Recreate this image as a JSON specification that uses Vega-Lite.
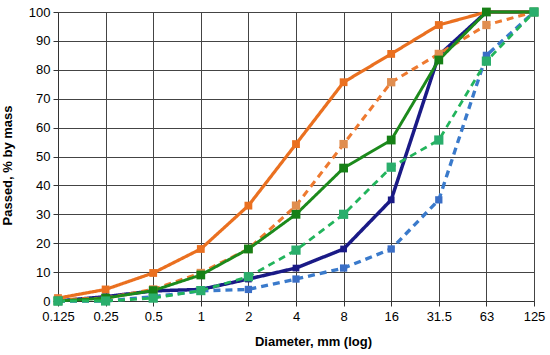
{
  "$schema": "https://vega.github.io/schema/vega-lite/v6.json",
  "autosize": "none",
  "width": 476,
  "height": 289,
  "padding": {"left": 58, "top": 12, "right": 16, "bottom": 54},
  "background": "white",
  "config": {
    "font": "Liberation Sans",
    "view": {"stroke": null},
    "axis": {
      "labelFont": "Liberation Sans",
      "labelFontSize": 13,
      "labelColor": "#000",
      "titleFont": "Liberation Sans",
      "titleFontSize": 13,
      "titleFontWeight": "bold",
      "titleColor": "#000",
      "gridColor": "#444444",
      "gridOpacity": 1,
      "gridWidth": 1,
      "domainColor": "#333",
      "tickColor": "#333",
      "tickSize": 5
    }
  },
  "data": {
    "values": [
      {"s": "a_navy", "d": "0.125", "v": 0},
      {"s": "a_navy", "d": "0.25", "v": 1.5},
      {"s": "a_navy", "d": "0.5", "v": 3.5},
      {"s": "a_navy", "d": "1", "v": 4},
      {"s": "a_navy", "d": "2", "v": 7.6},
      {"s": "a_navy", "d": "4", "v": 11.4},
      {"s": "a_navy", "d": "8", "v": 18},
      {"s": "a_navy", "d": "16", "v": 35},
      {"s": "a_navy", "d": "31.5", "v": 85},
      {"s": "a_navy", "d": "63", "v": 100},
      {"s": "a_navy", "d": "125", "v": 100},
      {"s": "b_blue", "d": "0.125", "v": 0},
      {"s": "b_blue", "d": "0.25", "v": 0},
      {"s": "b_blue", "d": "0.5", "v": 1.5},
      {"s": "b_blue", "d": "1", "v": 3.5},
      {"s": "b_blue", "d": "2", "v": 4},
      {"s": "b_blue", "d": "4", "v": 7.6},
      {"s": "b_blue", "d": "8", "v": 11.4},
      {"s": "b_blue", "d": "16", "v": 18},
      {"s": "b_blue", "d": "31.5", "v": 35},
      {"s": "b_blue", "d": "63", "v": 85},
      {"s": "b_blue", "d": "125", "v": 100},
      {"s": "c_orange", "d": "0.125", "v": 1},
      {"s": "c_orange", "d": "0.25", "v": 4},
      {"s": "c_orange", "d": "0.5", "v": 9.7},
      {"s": "c_orange", "d": "1", "v": 18},
      {"s": "c_orange", "d": "2", "v": 33},
      {"s": "c_orange", "d": "4", "v": 54.3},
      {"s": "c_orange", "d": "8", "v": 75.7},
      {"s": "c_orange", "d": "16", "v": 85.5},
      {"s": "c_orange", "d": "31.5", "v": 95.5},
      {"s": "c_orange", "d": "63", "v": 100},
      {"s": "c_orange", "d": "125", "v": 100},
      {"s": "d_orange2", "d": "0.125", "v": 0.5},
      {"s": "d_orange2", "d": "0.25", "v": 1},
      {"s": "d_orange2", "d": "0.5", "v": 4},
      {"s": "d_orange2", "d": "1", "v": 9.7},
      {"s": "d_orange2", "d": "2", "v": 18},
      {"s": "d_orange2", "d": "4", "v": 33},
      {"s": "d_orange2", "d": "8", "v": 54.3},
      {"s": "d_orange2", "d": "16", "v": 75.7},
      {"s": "d_orange2", "d": "31.5", "v": 85.5},
      {"s": "d_orange2", "d": "63", "v": 95.5},
      {"s": "d_orange2", "d": "125", "v": 100},
      {"s": "e_green", "d": "0.125", "v": 0},
      {"s": "e_green", "d": "0.25", "v": 1},
      {"s": "e_green", "d": "0.5", "v": 3.6},
      {"s": "e_green", "d": "1", "v": 9},
      {"s": "e_green", "d": "2", "v": 18},
      {"s": "e_green", "d": "4", "v": 30},
      {"s": "e_green", "d": "8", "v": 46},
      {"s": "e_green", "d": "16", "v": 55.7},
      {"s": "e_green", "d": "31.5", "v": 83.4},
      {"s": "e_green", "d": "63", "v": 100},
      {"s": "e_green", "d": "125", "v": 100},
      {"s": "f_green2", "d": "0.125", "v": 0},
      {"s": "f_green2", "d": "0.25", "v": 0},
      {"s": "f_green2", "d": "0.5", "v": 1},
      {"s": "f_green2", "d": "1", "v": 3.6},
      {"s": "f_green2", "d": "2", "v": 8.4},
      {"s": "f_green2", "d": "4", "v": 17.6},
      {"s": "f_green2", "d": "8", "v": 30},
      {"s": "f_green2", "d": "16", "v": 46.3},
      {"s": "f_green2", "d": "31.5", "v": 55.7},
      {"s": "f_green2", "d": "63", "v": 83},
      {"s": "f_green2", "d": "125", "v": 100}
    ]
  },
  "encoding": {
    "x": {
      "field": "d",
      "type": "ordinal",
      "sort": ["0.125", "0.25", "0.5", "1", "2", "4", "8", "16", "31.5", "63", "125"],
      "scale": {"type": "point", "padding": 0},
      "axis": {"title": "Diameter, mm (log)", "labelAngle": 0, "grid": true, "labelPadding": 4, "titleX": 255, "titlePadding": 12}
    },
    "y": {
      "field": "v",
      "type": "quantitative",
      "scale": {"domain": [0, 100], "nice": false},
      "axis": {"title": "Passed, % by mass", "values": [0, 10, 20, 30, 40, 50, 60, 70, 80, 90, 100], "grid": true, "labelPadding": 3, "titlePadding": 14, "titleY": 153}
    }
  },
  "layer": [
    {
      "mark": {"type": "line"},
      "encoding": {
        "color": {"field": "s", "type": "nominal", "legend": null,
          "scale": {"domain": ["a_navy", "b_blue", "c_orange", "d_orange2", "e_green", "f_green2"],
                    "range": ["#1a1a86", "#3a7acb", "#ea7020", "#ee7a30", "#1c8a1c", "#22b45c"]}},
        "strokeDash": {"field": "s", "type": "nominal", "legend": null,
          "scale": {"domain": ["a_navy", "b_blue", "c_orange", "d_orange2", "e_green", "f_green2"],
                    "range": [[1, 0], [7, 5], [1, 0], [7, 5], [1, 0], [7, 5]]}},
        "strokeWidth": {"field": "s", "type": "nominal", "legend": null,
          "scale": {"domain": ["a_navy", "b_blue", "c_orange", "d_orange2", "e_green", "f_green2"],
                    "range": [3.5, 2.8, 2, 2.8, 2, 2.8]}}
      }
    },
    {
      "mark": {"type": "point", "shape": "square", "filled": true, "opacity": 1},
      "encoding": {
        "fill": {"field": "s", "type": "nominal", "legend": null,
          "scale": {"domain": ["a_navy", "b_blue", "c_orange", "d_orange2", "e_green", "f_green2"],
                    "range": ["#1a1a86", "#3a6ec6", "#ea7020", "#e08e50", "#168016", "#2aae6c"]}},
        "size": {"field": "s", "type": "nominal", "legend": null,
          "scale": {"domain": ["a_navy", "b_blue", "c_orange", "d_orange2", "e_green", "f_green2"],
                    "range": [45, 85, 110, 100, 55, 90]}}
      }
    }
  ],
  "resolve": {"scale": {"color": "independent", "fill": "independent"}}
}
